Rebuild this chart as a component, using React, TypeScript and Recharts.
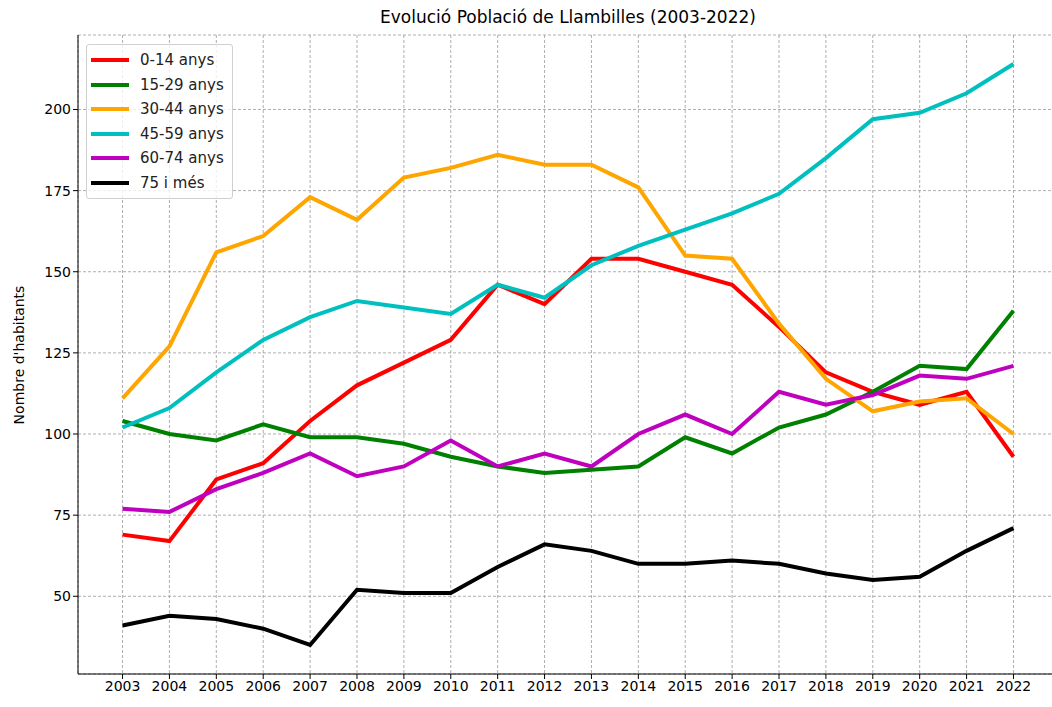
import { LineChart, Line, XAxis, YAxis, CartesianGrid } from 'recharts';

const years = [2003, 2004, 2005, 2006, 2007, 2008, 2009, 2010, 2011, 2012, 2013, 2014, 2015, 2016, 2017, 2018, 2019, 2020, 2021, 2022];

const age0to14 = [69, 67, 86, 91, 104, 115, 122, 129, 146, 140, 154, 154, 150, 146, 133, 119, 113, 109, 113, 93];
const age15to29 = [104, 100, 98, 103, 99, 99, 97, 93, 90, 88, 89, 90, 99, 94, 102, 106, 113, 121, 120, 138];
const age30to44 = [111, 127, 156, 161, 173, 166, 179, 182, 186, 183, 183, 176, 155, 154, 134, 117, 107, 110, 111, 100];
const age45to59 = [102, 108, 119, 129, 136, 141, 139, 137, 146, 142, 152, 158, 163, 168, 174, 185, 197, 199, 205, 214];
const age60to74 = [77, 76, 83, 88, 94, 87, 90, 98, 90, 94, 90, 100, 106, 100, 113, 109, 112, 118, 117, 121];
const age75plus = [41, 44, 43, 40, 35, 52, 51, 51, 59, 66, 64, 60, 60, 61, 60, 57, 55, 56, 64, 71];

const yTicks = [50, 75, 100, 125, 150, 175, 200];

const series = [
  { key: 'a0', name: '0-14 anys', values: age0to14, color: '#ff0000' },
  { key: 'a15', name: '15-29 anys', values: age15to29, color: '#008000' },
  { key: 'a30', name: '30-44 anys', values: age30to44, color: '#ffa500' },
  { key: 'a45', name: '45-59 anys', values: age45to59, color: '#00bfbf' },
  { key: 'a60', name: '60-74 anys', values: age60to74, color: '#bf00bf' },
  { key: 'a75', name: '75 i més', values: age75plus, color: '#000000' },
];

const data = years.map((year, i) => {
  const row: Record<string, number> = { year };
  series.forEach(s => { row[s.key] = s.values[i]; });
  return row;
});

const font = '"DejaVu Sans", sans-serif';

export default function App() {
  return (
    <div style={{ position: 'absolute', left: 0, top: 0, width: 1052, height: 707, overflow: 'hidden', background: '#fff' }}>
      <div style={{ position: 'absolute', top: 7, left: 78, width: 980, textAlign: 'center', fontFamily: font, fontSize: 17, color: '#000' }}>
        Evolució Població de Llambilles (2003-2022)
      </div>
      <div style={{
        position: 'absolute', left: 19, top: 355, transform: 'translate(-50%, -50%) rotate(-90deg)',
        fontFamily: font, fontSize: 14, whiteSpace: 'nowrap', color: '#000',
      }}>
        Nombre d'habitants
      </div>
      <LineChart width={1058} height={707} data={data} margin={{ top: 35, right: 0, left: 0, bottom: 0 }}>
        <CartesianGrid stroke="#999" strokeDasharray="3 2" strokeWidth={0.8} />
        <XAxis
          dataKey="year" type="number" domain={[2002.05, 2022.95]} ticks={years} interval={0}
          height={33} tick={{ fontSize: 14, fill: '#000', fontFamily: font }} tickSize={5}
          stroke="#000" allowDataOverflow
        />
        <XAxis
          xAxisId="top" orientation="top" dataKey="year" type="number" domain={[2002.05, 2022.95]}
          height={0} tick={false} tickLine={false} stroke="#000" allowDataOverflow
        />
        <YAxis
          type="number" domain={[26.05, 222.95]} ticks={yTicks} width={78}
          tick={{ fontSize: 14, fill: '#000', fontFamily: font }} tickSize={5} stroke="#000" allowDataOverflow
        />
        {series.map(s => (
          <Line
            key={s.key} dataKey={s.key} name={s.name} stroke={s.color} strokeWidth={4}
            dot={false} isAnimationActive={false} type="linear"
          />
        ))}
      </LineChart>
      <div style={{
        position: 'absolute', left: 86, top: 44, border: '1px solid #d0d0d0', borderRadius: 3,
        background: 'rgba(255,255,255,0.8)', padding: '3px 8px 3px 4px', fontFamily: font, fontSize: 15, color: '#222',
      }}>
        {series.map(s => (
          <div key={s.key} style={{ display: 'flex', alignItems: 'center', height: 24.5 }}>
            <span style={{ display: 'inline-block', width: 38, height: 4, background: s.color, marginRight: 11 }} />
            <span>{s.name}</span>
          </div>
        ))}
      </div>
    </div>
  );
}
